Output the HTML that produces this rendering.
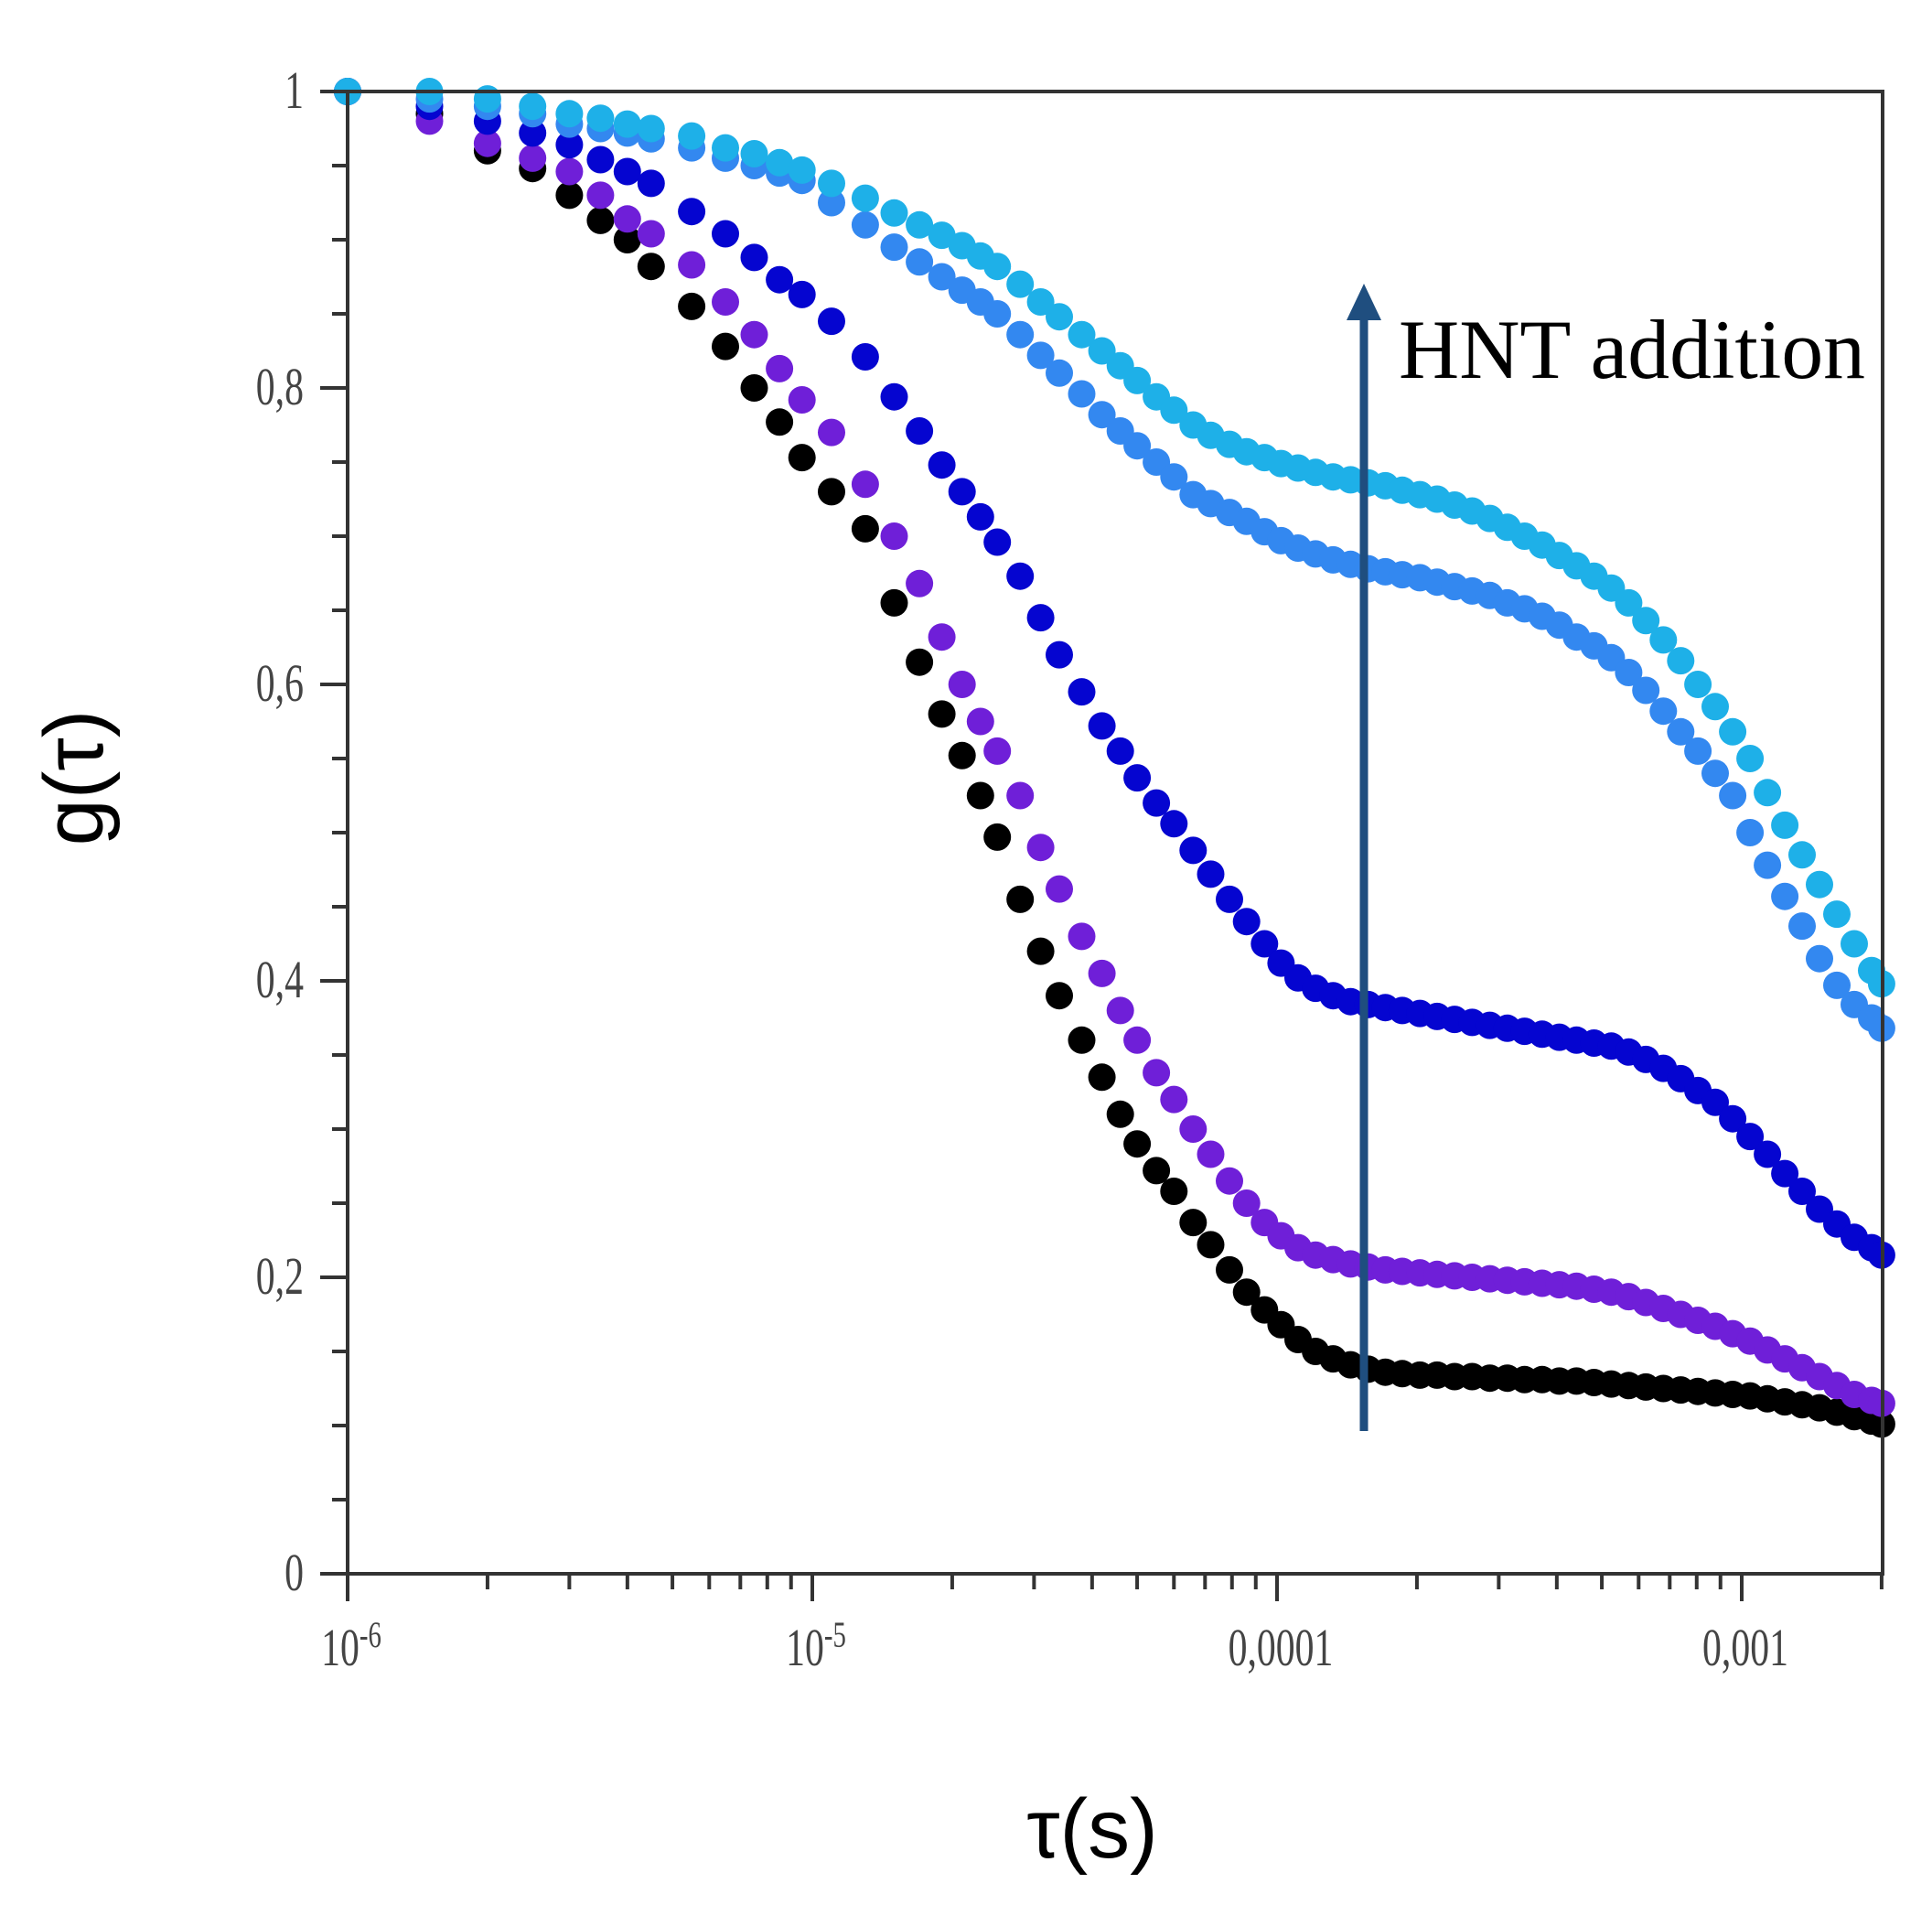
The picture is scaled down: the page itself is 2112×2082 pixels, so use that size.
<!DOCTYPE html>
<html><head><meta charset="utf-8"><style>
html,body{margin:0;padding:0;background:#fff;}
svg{display:block;}
</style></head><body>
<svg id="chart" width="2112" height="2082" viewBox="0 0 2112 2082" xmlns="http://www.w3.org/2000/svg">
<rect x="0" y="0" width="2112" height="2082" fill="#fff"/>
<g id="marks"></g>
<g id="axes"></g>
<text transform="translate(112,850) rotate(-90)" text-anchor="middle" font-family="Liberation Sans, sans-serif" font-size="92" fill="#000">g(τ)</text>
<text x="1194" y="2030" text-anchor="middle" font-family="Liberation Sans, sans-serif" font-size="92" fill="#000">τ(s)</text>
<line x1="1491" y1="1564" x2="1491" y2="340" stroke="#1f4e7f" stroke-width="9"/>
<polygon points="1491,310 1472,350 1510,350" fill="#1f4e7f"/>
<text x="1529" y="413" textLength="510" lengthAdjust="spacingAndGlyphs" font-family="Liberation Serif, serif" font-size="92" fill="#000">HNT addition</text>
</svg>
<script>
const tauMicro = [1,1.5,2,2.5,3,3.5,4,4.5,5.5,6.5,7.5,8.5,9.5,11,13,15,17,19,21,23,25,28,31,34,38,42,46,50,55,60,66,72,79,86,94,102,111,121,132,144,157,171,186,203,221,241,263,287,313,341,372,405,441,481,524,571,622,678,739,805,877,956,1042,1136,1238,1349,1470,1602,1746,1903,2000];
const gBlack = [1.0,0.985,0.96,0.948,0.93,0.913,0.90,0.882,0.855,0.828,0.80,0.777,0.753,0.73,0.705,0.655,0.615,0.58,0.552,0.525,0.497,0.455,0.42,0.39,0.36,0.335,0.31,0.29,0.272,0.258,0.237,0.222,0.205,0.19,0.178,0.168,0.158,0.15,0.145,0.141,0.138,0.136,0.135,0.134,0.134,0.133,0.133,0.132,0.132,0.131,0.131,0.13,0.13,0.129,0.128,0.127,0.126,0.125,0.124,0.123,0.122,0.121,0.12,0.118,0.116,0.114,0.112,0.109,0.106,0.103,0.101];
const gPurple = [1.0,0.98,0.965,0.955,0.946,0.93,0.914,0.904,0.883,0.858,0.836,0.813,0.792,0.77,0.735,0.7,0.668,0.632,0.6,0.575,0.555,0.525,0.49,0.462,0.43,0.405,0.38,0.36,0.338,0.32,0.3,0.283,0.265,0.25,0.237,0.228,0.22,0.215,0.212,0.209,0.207,0.205,0.204,0.203,0.202,0.201,0.2,0.199,0.198,0.197,0.196,0.195,0.194,0.192,0.19,0.187,0.183,0.179,0.175,0.171,0.167,0.162,0.157,0.151,0.145,0.139,0.133,0.127,0.121,0.117,0.115];
const gBlue = [1,0.99,0.98,0.972,0.964,0.954,0.946,0.938,0.919,0.904,0.888,0.873,0.863,0.845,0.821,0.794,0.771,0.748,0.73,0.713,0.696,0.673,0.645,0.62,0.595,0.572,0.555,0.537,0.52,0.506,0.488,0.472,0.455,0.44,0.425,0.412,0.402,0.395,0.39,0.386,0.384,0.382,0.38,0.378,0.376,0.374,0.372,0.37,0.368,0.366,0.364,0.362,0.36,0.358,0.356,0.352,0.347,0.341,0.334,0.326,0.318,0.307,0.295,0.283,0.27,0.258,0.246,0.236,0.227,0.22,0.215];
const gMidBlue = [1,0.995,0.99,0.985,0.978,0.975,0.972,0.968,0.962,0.955,0.95,0.945,0.94,0.925,0.91,0.895,0.885,0.875,0.866,0.858,0.85,0.836,0.822,0.81,0.796,0.782,0.771,0.761,0.75,0.74,0.728,0.722,0.716,0.71,0.703,0.697,0.692,0.688,0.684,0.681,0.678,0.676,0.674,0.672,0.669,0.666,0.663,0.66,0.655,0.651,0.646,0.64,0.632,0.626,0.618,0.608,0.596,0.582,0.568,0.555,0.54,0.525,0.5,0.478,0.457,0.437,0.415,0.397,0.384,0.375,0.368];
const gCyan = [1,1,0.995,0.99,0.985,0.982,0.978,0.975,0.97,0.962,0.958,0.952,0.947,0.938,0.928,0.918,0.91,0.903,0.896,0.889,0.882,0.87,0.858,0.848,0.836,0.825,0.815,0.805,0.794,0.785,0.775,0.768,0.762,0.757,0.753,0.749,0.746,0.743,0.74,0.738,0.736,0.734,0.731,0.728,0.725,0.721,0.717,0.712,0.706,0.7,0.694,0.687,0.68,0.673,0.665,0.655,0.643,0.63,0.616,0.6,0.585,0.568,0.55,0.527,0.505,0.485,0.465,0.445,0.425,0.407,0.398];
const yTickValues = [0,0.2,0.4,0.6,0.8,1];
const yTickLabels = ["0","0,2","0,4","0,6","0,8","1"];
const xTickValues = [1e-6,1e-5,1e-4,1e-3];
const xTickLabels = [["10","-6"],["10","-5"],["0,0001",""],["0,001",""]];

const NS = "http://www.w3.org/2000/svg";
const L = 380, R = 2058, T = 100, B = 1720;
const DEC = 508;
function xScale(t){ return L + DEC*(Math.log10(t)+6); }
function yScale(g){ return B - (B-T)*g; }
function mk(tag, attrs, parent){ const e=document.createElementNS(NS,tag); for(const k in attrs) e.setAttribute(k,attrs[k]); parent.appendChild(e); return e; }

const marks = document.getElementById('marks');
const axes = document.getElementById('axes');
const series = [
  {name:'series-black', vals:gBlack, color:'#000000'},
  {name:'series-purple', vals:gPurple, color:'#6f1fd8'},
  {name:'series-blue', vals:gBlue, color:'#0505d0'},
  {name:'series-mid-blue', vals:gMidBlue, color:'#3388f0'},
  {name:'series-cyan', vals:gCyan, color:'#1eb0e8'}
];
series.forEach(s=>{
  const g = mk('g',{fill:s.color},marks);
  
  
  s.vals.forEach((v,i)=>{
    const c = mk('circle',{cx:xScale(tauMicro[i]*1e-6).toFixed(1), cy:yScale(v).toFixed(1), r:15},g);
    
    
  });
});

const frame = mk('rect',{x:L,y:T,width:R-L,height:B-T,fill:'none',stroke:'#333',"stroke-width":4},axes);



for(let k=0;k<=20;k++){
  const v = k*0.05;
  const major = (k%4===0);
  const y = yScale(v);
  const t = mk('line',{x1:L-(major?30:17),x2:L,y1:y,y2:y,stroke:'#333',"stroke-width":4},axes);
  
  
}
yTickValues.forEach((v,i)=>{
  const y = yScale(v);
  const tx = mk('text',{x:0,y:0,"text-anchor":"end","font-family":"Liberation Serif, serif","font-size":58,fill:'#444',transform:`translate(332,${y+18}) scale(0.72,1)`},axes);
  tx.textContent = yTickLabels[i];
  
  
});
for(let d=-6; d<=-3; d++){
  for(let m=1;m<=9;m++){
    const t = m*Math.pow(10,d);
    const x = xScale(t);
    if(x>R+1) break;
    const major = (m===1);
    const ln = mk('line',{x1:x,x2:x,y1:B,y2:B+(major?30:17),stroke:'#333',"stroke-width":4},axes);
    
    
  }
}
xTickValues.forEach((v,i)=>{
  const x = xScale(v);
  const tx = mk('text',{x:0,y:0,"text-anchor":"middle","font-family":"Liberation Serif, serif","font-size":58,fill:'#444',transform:`translate(${x+4},1820) scale(0.72,1)`},axes);
  tx.textContent = xTickLabels[i][0];
  if(xTickLabels[i][1]){
    const sp = document.createElementNS(NS,'tspan');
    sp.setAttribute('dy','-20');
    sp.setAttribute('font-size','40');
    sp.textContent = xTickLabels[i][1];
    tx.appendChild(sp);
  }
  
  
});
</script>
</body></html>
